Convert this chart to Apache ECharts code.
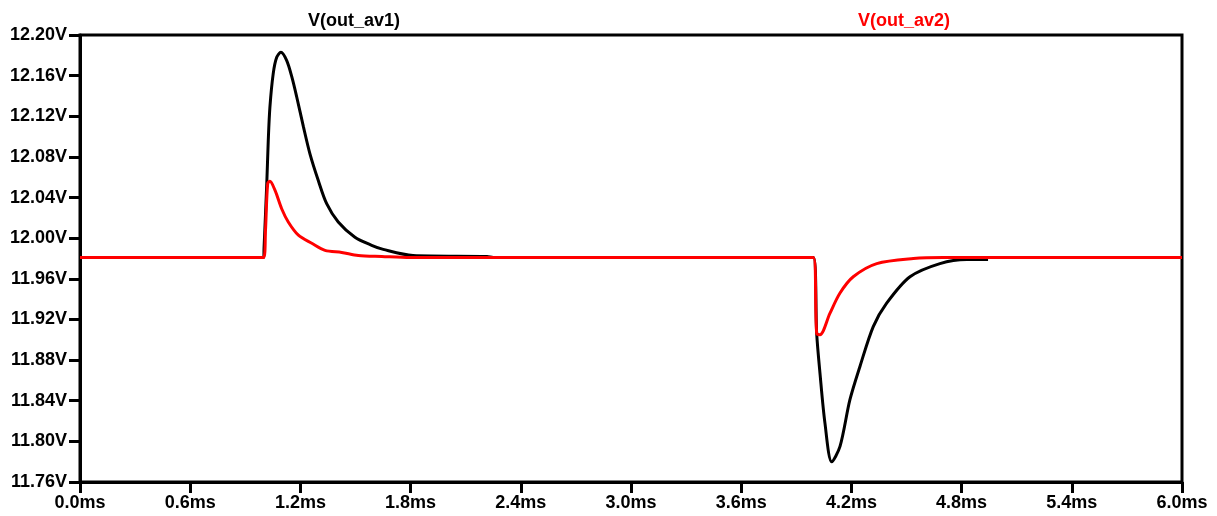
<!DOCTYPE html>
<html>
<head>
<meta charset="utf-8">
<script src="https://cdn.jsdelivr.net/npm/echarts@6/dist/echarts.min.js"></script>
<style>
html,body{margin:0;padding:0;background:#fff;}
#chart{width:1217px;height:516px;}
</style>
</head>
<body>
<div id="chart"></div>
<script>
// Time in ms, voltage in V
var av1Time  = [0, 1.0, 1.002, 1.017, 1.025, 1.034, 1.052, 1.071, 1.094, 1.125, 1.153, 1.180, 1.216, 1.252, 1.297, 1.343, 1.406, 1.497, 1.588, 1.651, 1.813, 2.216, 2.25, 3.993, 4.011, 4.029, 4.056, 4.093, 4.138, 4.192, 4.247, 4.319, 4.392, 4.519, 4.682, 4.828, 4.944];
var av1Volts = [11.981, 11.981, 11.990, 12.054, 12.096, 12.129, 12.162, 12.178, 12.183, 12.175, 12.159, 12.139, 12.110, 12.083, 12.057, 12.034, 12.016, 12.001, 11.993, 11.989, 11.983, 11.982, 11.981, 11.981, 11.906, 11.867, 11.818, 11.780, 11.795, 11.841, 11.874, 11.913, 11.936, 11.962, 11.975, 11.979, 11.979];

var av2Time  = [0, 1.0, 1.010, 1.022, 1.034, 1.062, 1.098, 1.134, 1.189, 1.262, 1.334, 1.425, 1.515, 1.643, 1.797, 3.993, 4.011, 4.029, 4.083, 4.138, 4.210, 4.338, 4.537, 4.7, 6.0];
var av2Volts = [11.981, 11.981, 12.008, 12.054, 12.056, 12.047, 12.029, 12.016, 12.003, 11.995, 11.988, 11.986, 11.983, 11.982, 11.981, 11.981, 11.906, 11.905, 11.926, 11.946, 11.962, 11.975, 11.980, 11.981, 11.981];

var seriesNames = ['V(out_av1)', 'V(out_av2)'];
var seriesColors = ['#000000', '#ff0000'];

function pairs(t, v) {
  var out = [];
  for (var i = 0; i < t.length; i++) out.push([t[i], v[i]]);
  return out;
}

var FONT = '"Liberation Sans", Arial, sans-serif';
var chart = echarts.init(document.getElementById('chart'), null, {renderer: 'canvas'});

chart.setOption({
  animation: false,
  backgroundColor: '#ffffff',
  grid: {left: 80, right: 35, top: 35, bottom: 34, show: true, borderColor: '#000', borderWidth: 3},
  graphic: [
    {type: 'text', left: 308, top: 12, style: {text: seriesNames[0], fill: seriesColors[0], font: 'bold 18px ' + FONT}},
    {type: 'text', left: 858, top: 12, style: {text: seriesNames[1], fill: seriesColors[1], font: 'bold 18px ' + FONT}}
  ],
  xAxis: {
    type: 'value', min: 0, max: 6, interval: 0.6,
    axisLine: {show: true, lineStyle: {color: '#000', width: 3}},
    axisTick: {show: true, length: 11, lineStyle: {color: '#000', width: 3}},
    axisLabel: {margin: 12, color: '#000', fontFamily: FONT, fontWeight: 'bold', fontSize: 18,
      formatter: function (v) { return v.toFixed(1) + 'ms'; }},
    splitLine: {show: false}
  },
  yAxis: {
    type: 'value', min: 11.76, max: 12.20, interval: 0.04,
    axisLine: {show: true, lineStyle: {color: '#000', width: 3}},
    axisTick: {show: true, length: 11, lineStyle: {color: '#000', width: 3}},
    axisLabel: {margin: 13, color: '#000', fontFamily: FONT, fontWeight: 'bold', fontSize: 18,
      formatter: function (v) { return v.toFixed(2) + 'V'; }},
    splitLine: {show: false}
  },
  series: [
    {name: seriesNames[0], type: 'line', data: pairs(av1Time, av1Volts), showSymbol: false, smooth: 0.3,
      lineStyle: {color: seriesColors[0], width: 3}, z: 2},
    {name: seriesNames[1], type: 'line', data: pairs(av2Time, av2Volts), showSymbol: false, smooth: 0.3,
      lineStyle: {color: seriesColors[1], width: 3}, z: 3}
  ]
});
</script>
</body>
</html>
